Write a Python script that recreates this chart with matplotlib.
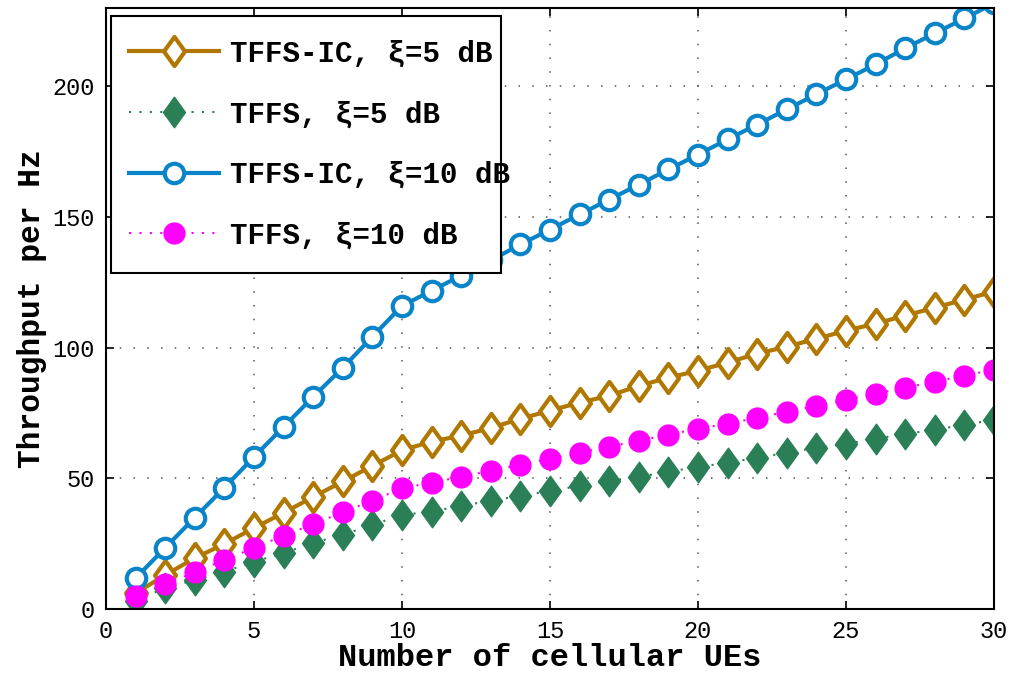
import numpy as np
import matplotlib.pyplot as plt
from matplotlib.path import Path
from matplotlib.patches import Rectangle

# Data.
ues = list(range(1, 31))

tffs_ic_5 = [6.0, 13.0, 19.5, 24.9, 31.0, 36.8, 42.9, 48.8, 54.8, 60.7,
             64.1, 66.3, 69.3, 72.8, 75.9, 79.0, 81.6, 85.4, 88.5, 91.2,
             94.3, 97.7, 100.4, 103.4, 106.5, 109.2, 112.3, 115.3, 118.4, 121.5]
tffs_5 = [3.2, 8.0, 11.1, 14.3, 18.1, 21.4, 25.3, 28.4, 32.2, 36.0,
          37.3, 39.5, 41.4, 43.3, 45.2, 47.1, 49.0, 50.6, 52.5, 54.4,
          55.9, 57.9, 59.8, 61.7, 63.2, 65.1, 67.0, 68.6, 70.5, 72.4]
tffs_ic_10 = [11.8, 23.4, 35.0, 46.4, 58.2, 69.7, 81.2, 92.3, 104.2, 116.0,
              121.8, 127.6, 133.4, 139.5, 145.2, 151.0, 156.7, 162.4, 168.2, 173.9,
              179.7, 185.4, 191.2, 197.0, 202.7, 208.4, 214.6, 220.3, 226.0, 231.8]
tffs_10 = [5.0, 9.6, 14.0, 18.8, 23.4, 28.1, 32.5, 37.0, 41.5, 46.2,
           48.4, 50.6, 52.9, 55.2, 57.5, 59.8, 62.1, 64.4, 66.7, 69.0,
           70.9, 73.2, 75.5, 77.8, 80.1, 82.4, 84.7, 87.0, 89.3, 91.6]

labels = ['TFFS-IC, ξ=5 dB', 'TFFS, ξ=5 dB', 'TFFS-IC, ξ=10 dB', 'TFFS, ξ=10 dB']

# Taller-than-wide diamond like MATLAB's.
diamond = Path([(0, -1), (0.72, 0), (0, 1), (-0.72, 0), (0, -1)],
               [Path.MOVETO, Path.LINETO, Path.LINETO, Path.LINETO, Path.CLOSEPOLY])

mono = 'Liberation Mono'

fig = plt.figure(figsize=(10.13, 6.73), dpi=100)
ax = fig.add_axes([0.1046, 0.0951, 0.8766, 0.8930])

ax.plot(ues, tffs_ic_5, color='#B07800', lw=3, marker=diamond, ms=21,
        mfc='white', mec='#B07800', mew=3, label=labels[0])
ax.plot(ues, tffs_5, color='#2A7F56', lw=1.5, ls=(0, (1, 4)), marker=diamond, ms=22,
        mfc='#2A7F56', mec='#2A7F56', label=labels[1])
ax.plot(ues, tffs_ic_10, color='#0A84C8', lw=3, marker='o', ms=14,
        mfc='white', mec='#0A84C8', mew=3, label=labels[2])
ax.plot(ues, tffs_10, color='#FF00FF', lw=1.5, ls=(0, (1, 4)), marker='o', ms=15,
        mfc='#FF00FF', mec='#FF00FF', label=labels[3])

ax.set_xlim(0, 30)
ax.set_ylim(0, 230)
ax.set_xticks([0, 5, 10, 15, 20, 25, 30])
ax.set_yticks([0, 50, 100, 150, 200])

ax.grid(True, ls=(0, (1, 8)), color='#555555', lw=1.1)
ax.tick_params(direction='in', top=True, right=True, length=6, width=1.2,
               labelsize=17, pad=8)
for t in ax.get_xticklabels() + ax.get_yticklabels():
    t.set_fontfamily(mono)
for s in ax.spines.values():
    s.set_linewidth(1.5)

ax.set_xlabel('Number of cellular UEs', fontsize=23, fontweight='bold',
              fontfamily=mono, labelpad=0)
ax.set_ylabel('Throughput per Hz', fontsize=22.5, fontweight='bold',
              fontfamily=mono, labelpad=4)

# Legend box drawn by hand (the long label runs past it, as in the original).
box = Rectangle((0.0056, 0.5596), 0.439, 0.4274, transform=ax.transAxes,
                facecolor='white', edgecolor='black', lw=1.5, zorder=4)
ax.add_patch(box)
leg = ax.legend(loc='upper left', bbox_to_anchor=(0.0259, 0.9476), borderaxespad=0,
                prop={'family': mono, 'weight': 'bold', 'size': 21},
                handlelength=3.1, handletextpad=0.38, labelspacing=1.12,
                borderpad=0, frameon=False)
leg.set_zorder(5)

plt.savefig('out.png', dpi=100)
plt.close()
